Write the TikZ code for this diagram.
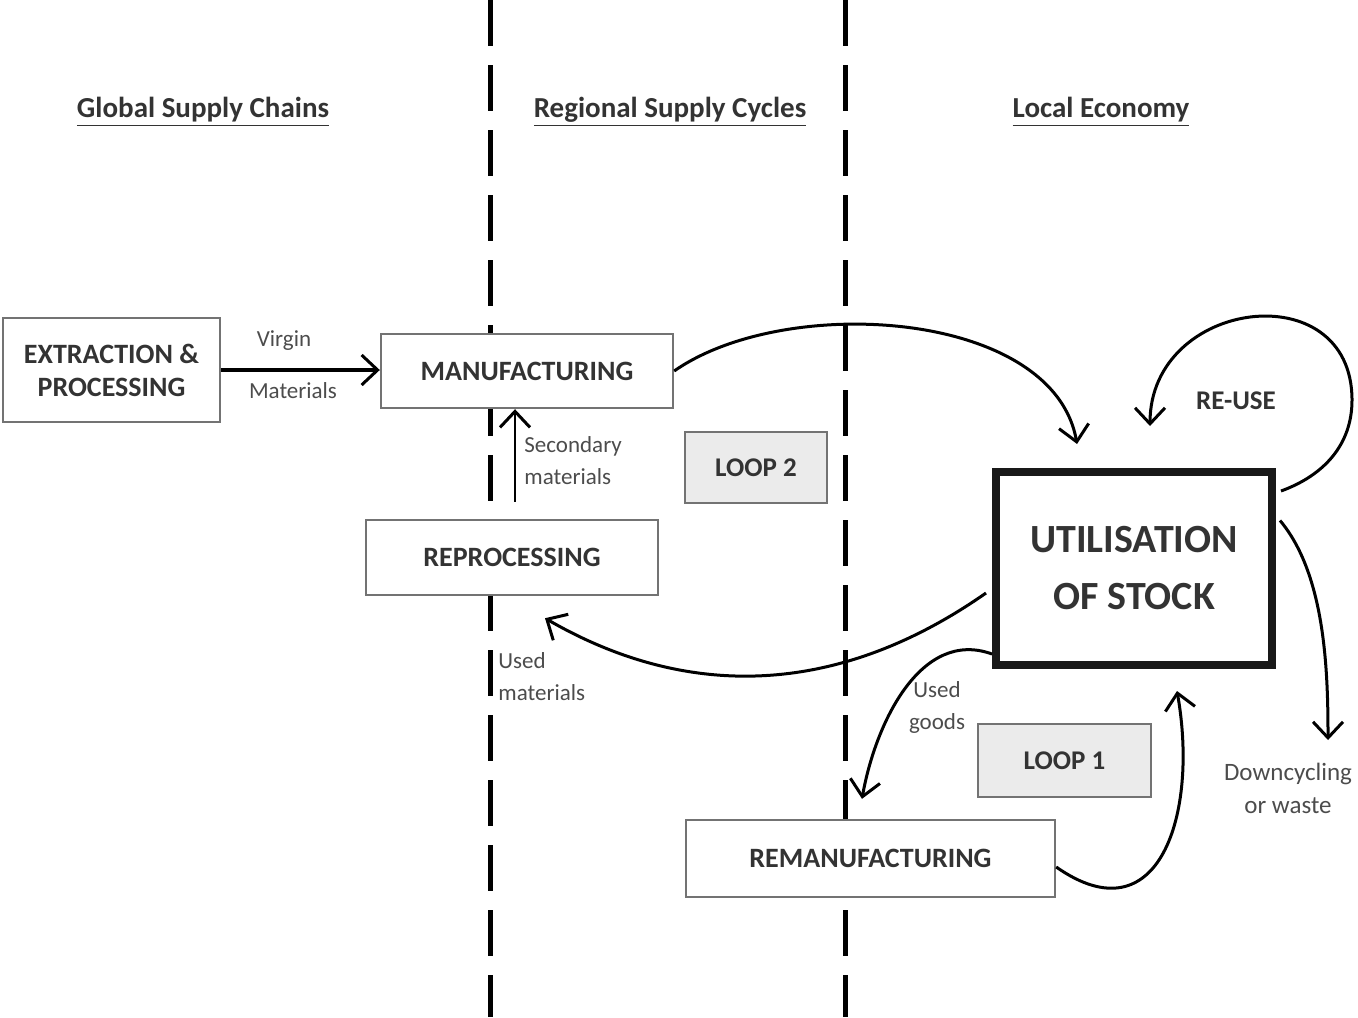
\documentclass[tikz,border=0pt]{standalone}
\usepackage{fontspec}
\setmainfont{Carlito}
\usetikzlibrary{positioning,calc,arrows.meta}

\tikzstyle{box}=[draw=black!55, line width=1.2pt, fill=white, inner sep=2pt, align=center, text=black!80, font=\fontsize{14}{16.5}\selectfont\bfseries]
\tikzstyle{loopbox}=[box, fill=black!8, font=\fontsize{13.5}{16}\selectfont\bfseries]
\tikzstyle{lbl}=[align=center, text=black!70, inner sep=1pt, font=\fontsize{11.5}{16}\selectfont]
\tikzstyle{head}=[text=black!80, font=\fontsize{14.5}{17}\selectfont\bfseries]
\tikzstyle{flow}=[line width=1.5pt, -{Straight Barb[length=8pt,width=15pt,line width=1.5pt]}]
\tikzstyle{border}=[line width=2.5pt, dash pattern=on 23pt off 9.5pt]

\begin{document}
\begin{tikzpicture}[x=0.5pt, y=-0.5pt]
  \useasboundingbox (0,0) rectangle (1358,1017);

  % zone borders
  \draw [border] (490,0) -- (490,1017);
  \draw [border] (845,0) -- (845,1017);

  % headings
  \node [head] at (203,112)  (global)   {\underline{Global Supply Chains}};
  \node [head] at (670,112)  (regional) {\underline{Regional Supply Cycles}};
  \node [head] at (1101,112) (local)    {\underline{Local Economy}};

  % boxes
  \node [box, minimum width=108.5pt, minimum height=52pt]   at (111.5,370)  (extract) {EXTRACTION \&\\PROCESSING};
  \node [box, minimum width=146pt, minimum height=37pt]     at (527,371)    (manu)    {MANUFACTURING};
  \node [box, minimum width=146pt, minimum height=37.5pt]   at (512,557.5)  (reproc)  {REPROCESSING};
  \node [loopbox, minimum width=71pt, minimum height=35.5pt] at (756,467.5)  (loop2)   {LOOP 2};
  \node [box, draw=black!90, line width=4pt, minimum width=138pt, minimum height=96.5pt,
         font=\fontsize{20}{28.5}\selectfont\bfseries]      at (1134,568.5) (util)    {UTILISATION\\OF STOCK};
  \node [loopbox, minimum width=86.5pt, minimum height=36.5pt] at (1064.5,760.5) (loop1) {LOOP 1};
  \node [box, minimum width=184.5pt, minimum height=38.5pt] at (870.5,858.5) (reman)   {REMANUFACTURING};

  % labels
  \node [lbl] at (284,341) (virgin)    {Virgin};
  \node [lbl] at (293,391) (materials) {Materials};
  \node [lbl, align=left, anchor=west] at (522,461) (secondary) {Secondary\\materials};
  \node [lbl, align=left, anchor=west] at (496,677) (usedmat)   {Used\\materials};
  \node [lbl] at (937,707) (usedgoods) {Used\\goods};
  \node [lbl, font=\fontsize{12.5}{16.5}\selectfont] at (1288,788) (downcycle) {Downcycling\\or waste};
  \node [head, font=\fontsize{13.5}{16}\selectfont\bfseries] at (1236,401) (reuse) {RE-USE};

  % free ends
  \coordinate (util-in)     at ($(util.north)+(-57,-24)$);
  \coordinate (reuse-out)   at ($(util.north east)+(5,23)$);
  \coordinate (reuse-far)   at (1352,400);
  \coordinate (reuse-in)    at ($(util.north)+(16,-42)$);
  \coordinate (usedmat-out) at ($(util.west)+(-6,24.5)$);
  \coordinate (usedmat-in)  at ($(reproc.south)+(33,22)$);
  \coordinate (goods-out)   at ($(util.south west)+(0,-15)$);
  \coordinate (goods-in)    at ($(reman.north)+(-8.5,-20)$);
  \coordinate (reman-out)   at ($(reman.east)+(0,8.5)$);
  \coordinate (reman-in)    at ($(util.south)+(43,22)$);
  \coordinate (waste-out)   at ($(util.east)+(4,-48)$);
  \coordinate (waste-end)   at (1328,740);

  % flows
  \draw [flow, line width=2pt] (extract.east) -- (extract.east -| manu.west);
  \draw [flow, line width=1.2pt, shorten <=8.5pt] ([xshift=1.5pt]reproc.north) -- ([xshift=1.5pt]reproc.north |- manu.south);
  \draw [flow] (manu.east) to[out=35, in=100, looseness=0.85] (util-in);
  \draw [flow] (reuse-out) to[out=20, in=-90] (reuse-far) to[out=90, in=90, looseness=1.6] (reuse-in);
  \draw [flow] (usedmat-out) to[out=215, in=-30] (usedmat-in);
  \draw [flow] (goods-out) to[out=160, in=80] (goods-in);
  \draw [flow] (reman-out) to[out=-35, in=-80, looseness=1.5] (reman-in);
  \draw [flow] (waste-out) to[out=-50, in=90, looseness=0.8] (waste-end);
\end{tikzpicture}
\end{document}
